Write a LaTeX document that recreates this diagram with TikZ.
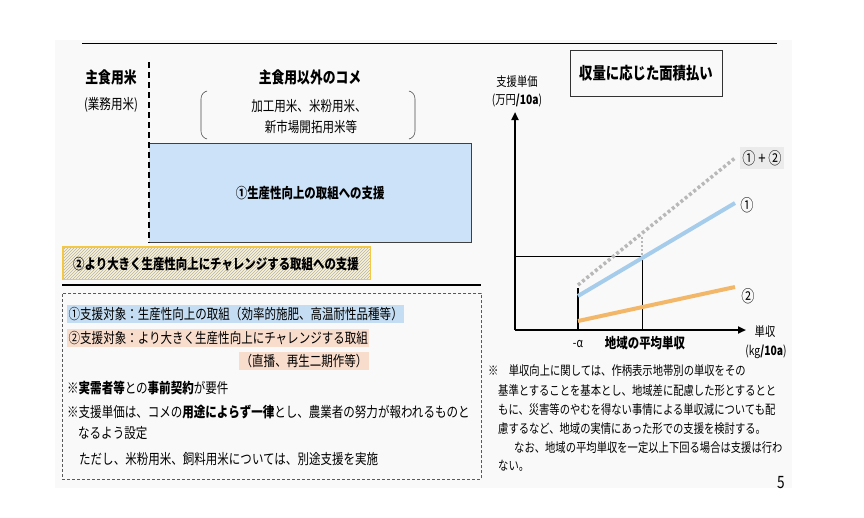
\documentclass[tikz,border=0pt]{standalone}
\usepackage{fontspec}
\newfontfamily\jp[FakeStretch=0.8]{Noto Sans CJK JP}
\usetikzlibrary{patterns,arrows.meta}
\definecolor{boxblue}{HTML}{CCE2F8}
\definecolor{hlblue}{HTML}{C4DDF2}
\definecolor{hlpeach}{HTML}{F9DDCC}
\definecolor{ybord}{HTML}{F3C846}
\definecolor{yfill}{HTML}{FBF2D2}
\definecolor{lineblue}{HTML}{A6CCEC}
\definecolor{lineorange}{HTML}{F3B76A}
\definecolor{linegray}{HTML}{B8B8B8}
\definecolor{slide}{HTML}{F9F9F9}
\tikzset{
  head/.style={font=\jp\bfseries\fontsize{16}{18}\selectfont},
  txt/.style={font=\jp\fontsize{14.4}{16}\selectfont},
  btxt/.style={font=\jp\bfseries\fontsize{14.3}{16}\selectfont},
  small/.style={font=\jp\fontsize{12.9}{14}\selectfont},
  lbl/.style={font=\jp\fontsize{12.9}{14}\selectfont},
  hl/.style={inner xsep=1.5pt, inner ysep=2pt, anchor=west},
}
\begin{document}
\begin{tikzpicture}[x=1pt,y=-1pt, every node/.style={inner sep=0pt}]
\useasboundingbox (0,0) rectangle (864,517);
\fill[slide] (55,40) rectangle (792,488);
% top rule
\coordinate (tl) at (82,43); \coordinate (tr) at (777,43);
\draw[line width=0.8pt] (tl) -- (tr);

% left headings
\node[head] (shu) at (111,77) {主食用米};
\node[txt] (gyo) at (111,105) {(業務用米)};
\node[head] (other) at (310,77) {主食用以外のコメ};
\node[txt] (kako) at (309,106) {加工用米、米粉用米、};
\node[txt] (shin) at (311,127) {新市場開拓用米等};
% bracket
\draw[line width=0.6pt, black!70] (207,91) to[out=195,in=90] (201,99) -- (201,131) to[out=-90,in=165] (207,139);
\draw[line width=0.6pt, black!70] (409,91) to[out=-15,in=90] (415,99) -- (415,131) to[out=-90,in=15] (409,139);

% blue box
\node[fill=boxblue, minimum width=322pt, minimum height=99pt, anchor=north west] (b1) at (149,143) {};
\draw[line width=1pt, black!75] (b1.north west) -- (b1.north east) -- (b1.south east) -- (b1.south west);
\coordinate (dtop) at (149,62);
\draw[line width=1.6pt, dash pattern=on 6pt off 4pt] (dtop) -- (b1.south west);
\node[btxt] (b1t) at (b1.center) {①生産性向上の取組への支援};

% yellow box
\node[fill=yfill, minimum width=307pt, minimum height=32pt, anchor=north west] (b2) at (63,247) {};
\fill[pattern=north east lines, pattern color=black!30] (b2.north west) rectangle (b2.south east);
\draw[ybord, line width=1.6pt] (b2.north west) rectangle (b2.south east);
\node[btxt] (b2t) at (216,264) {②より大きく生産性向上にチャレンジする取組への支援};

% thick rule
\coordinate (rl) at (62,285); \coordinate (rr) at (481,285);
\draw[line width=2pt] (rl) -- (rr);

% dashed box
\node[minimum width=419pt, minimum height=186pt, anchor=north west, draw=black!65, line width=0.7pt, dash pattern=on 3pt off 2pt] (db) at (62,293) {};
\node[txt, hl, fill=hlblue] (l1) at (67,314) {①支援対象：生産性向上の取組（効率的施肥、高温耐性品種等）};
\node[txt, hl, fill=hlpeach] (l2) at (67,338) {②支援対象：より大きく生産性向上にチャレンジする取組};
\node[txt, hl, fill=hlpeach] (l3) at (239,361) {（直播、再生二期作等）};
\node[txt, anchor=west] (l4) at (67,388) {※\textbf{実需者等}との\textbf{事前契約}が要件};
\node[txt, anchor=west] (l5) at (67,412) {※支援単価は、コメの\textbf{用途によらず一律}とし、農業者の努力が報われるものと};
\node[txt, anchor=west] (l6) at (78,433) {なるよう設定};
\node[txt, anchor=west] (l7) at (79,459) {ただし、米粉用米、飼料用米については、別途支援を実施};

% right title
\node[draw=black!80, line width=0.8pt, minimum width=152pt, minimum height=46pt, font=\jp\bfseries\fontsize{16.7}{18}\selectfont] (title) at (646,73) {収量に応じた面積払い};

% axes
\coordinate (o) at (515,330);
\coordinate (ytop) at (515,112);
\coordinate (xend) at (746,330);
\draw[line width=2.2pt, -{Triangle[length=8pt,width=7pt]}] (o) -- (ytop);
\draw[line width=2.2pt, -{Triangle[length=8pt,width=7pt]}] (o) -- (xend);
\node[lbl] (ylab1) at (517,82) {支援単価};
\node[lbl] (ylab2) at (517,100) {(万円\textbf{/10a})};
\node[lbl] (xlab1) at (765,332) {単収};
\node[lbl] (xlab2) at (766,352) {(kg\textbf{/10a})};

% guide lines
\coordinate (hl0) at (515,256);
\coordinate (avg) at (642,256);
\coordinate (avgb) at (642,330);
\coordinate (avgt) at (642,237);
\draw[line width=0.8pt] (hl0) -- (avg) -- (avgb);
\draw[linegray, line width=2pt, dash pattern=on 2pt off 2pt] (avgt) -- (avg);
\coordinate (tickt) at (578,288);
\coordinate (tickb) at (578,330);
\draw[line width=2pt] (tickt) -- (tickb);

% data lines
\coordinate (g0) at (578,285); \coordinate (g1) at (735,158);
\coordinate (bl0) at (578,296); \coordinate (bl1) at (735,203);
\coordinate (or0) at (578,321); \coordinate (or1) at (735,287);
\draw[linegray, line width=3.5pt, dash pattern=on 3pt off 2.5pt] (g0) -- (g1);
\draw[lineblue, line width=4pt] (bl0) -- (bl1);
\draw[lineorange, line width=4pt] (or0) -- (or1);

\node[font=\jp\fontsize{16.5}{18}\selectfont, fill=black!8, inner xsep=2pt, inner ysep=3pt] (lab12) at (762,158) {①\,+\,②};
\node[font=\jp\fontsize{16.5}{18}\selectfont] (lab1) at (747,205) {①};
\node[font=\jp\fontsize{16.5}{18}\selectfont] (lab2) at (748,296) {②};
\node[lbl] (alpha) at (578,344) {-α};
\node[btxt] (avglab) at (645,343) {地域の平均単収};

% note
\node[small, anchor=west] (n1) at (488,371) {※　単収向上に関しては、作柄表示地帯別の単収をその};
\node[small, anchor=west] (n2) at (498,391) {基準とすることを基本とし、地域差に配慮した形とするとと};
\node[small, anchor=west] (n3) at (498,410) {もに、災害等のやむを得ない事情による単収減についても配};
\node[small, anchor=west] (n4) at (498,429) {慮するなど、地域の実情にあった形での支援を検討する。};
\node[small, anchor=west] (n5) at (514,448) {なお、地域の平均単収を一定以上下回る場合は支援は行わ};
\node[small, anchor=west] (n6) at (498,466) {ない。};

\node[font=\jp\fontsize{17}{18}\selectfont] (pg) at (781,483) {5};
\end{tikzpicture}
\end{document}
